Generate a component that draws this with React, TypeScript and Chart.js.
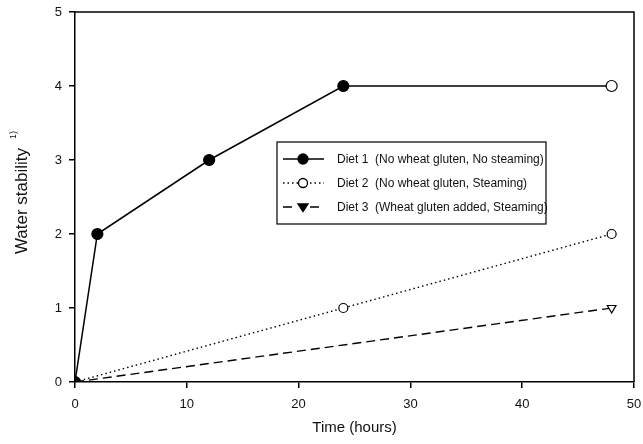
import React, { useEffect, useRef } from "react";
import { Chart, registerables } from "chart.js";

Chart.register(...registerables);

const diet1Time = [0, 2, 12, 24, 48];
const diet1Stability = [0, 2, 3, 4, 4];
const diet2Time = [0, 24, 48];
const diet2Stability = [0, 1, 2];
const diet3Time = [0, 48];
const diet3Stability = [0, 1];

const seriesLabels = [
  "Diet 1  (No wheat gluten, No steaming)",
  "Diet 2  (No wheat gluten, Steaming)",
  "Diet 3  (Wheat gluten added, Steaming)",
];
const xTitle = "Time (hours)";
const yTitle = "Water stability";
const ySuperscript = "1)";

const FONT = "'Liberation Sans', Arial, Helvetica, sans-serif";

function pts(xs: number[], ys: number[]) {
  return xs.map((x, i) => ({ x, y: ys[i] }));
}

function drawMarker(ctx: CanvasRenderingContext2D, style: string, x: number, y: number, r: number, fill: string) {
  ctx.save();
  ctx.beginPath();
  if (style === "circle") {
    ctx.arc(x, y, r, 0, Math.PI * 2);
  } else {
    ctx.moveTo(x - r, y - r * 0.6);
    ctx.lineTo(x + r, y - r * 0.6);
    ctx.lineTo(x, y + r * 0.9);
    ctx.closePath();
  }
  ctx.setLineDash([]);
  ctx.fillStyle = fill;
  ctx.fill();
  ctx.lineWidth = 1.3;
  ctx.strokeStyle = "#000";
  ctx.stroke();
  ctx.restore();
}

const framePlugin = {
  id: "frameLegend",
  afterDraw(chart: any) {
    const ctx: CanvasRenderingContext2D = chart.ctx;
    const a = chart.chartArea;
    ctx.save();
    ctx.strokeStyle = "#000";
    ctx.lineWidth = 1.5;
    ctx.beginPath();
    ctx.moveTo(a.left, a.top);
    ctx.lineTo(a.right, a.top);
    ctx.lineTo(a.right, a.bottom);
    ctx.stroke();

    const bx = 277, by = 142, bw = 269, bh = 82;
    ctx.fillStyle = "#fff";
    ctx.fillRect(bx, by, bw, bh);
    ctx.lineWidth = 1.2;
    ctx.strokeRect(bx, by, bw, bh);
    const rows = [159, 183, 207];
    const styles = [
      { dash: [], marker: "circle", fill: "#000" },
      { dash: [1.5, 3], marker: "circle", fill: "#fff" },
      { dash: [9, 5], marker: "triangle", fill: "#000" },
    ];
    ctx.font = `12px ${FONT}`;
    ctx.textBaseline = "middle";
    rows.forEach((y, i) => {
      const s = styles[i];
      ctx.beginPath();
      ctx.setLineDash(s.dash);
      ctx.lineWidth = 1.4;
      ctx.strokeStyle = "#000";
      if (i === 2) {
        ctx.moveTo(283, y); ctx.lineTo(296, y);
        ctx.moveTo(310, y); ctx.lineTo(323, y);
      } else {
        ctx.moveTo(283, y);
        ctx.lineTo(324, y);
      }
      ctx.stroke();
      ctx.setLineDash([]);
      drawMarker(ctx, s.marker, 303, y, i === 1 ? 4.5 : 5, s.fill);
      ctx.fillStyle = "#111";
      ctx.fillText(seriesLabels[i], 337, y + 0.5);
    });

    ctx.translate(22, 201);
    ctx.rotate(-Math.PI / 2);
    ctx.font = `17px ${FONT}`;
    ctx.textAlign = "center";
    ctx.textBaseline = "middle";
    ctx.fillStyle = "#111";
    ctx.fillText(yTitle, 0, 0);
    const half = ctx.measureText(yTitle).width / 2;
    ctx.font = `9px ${FONT}`;
    ctx.textAlign = "left";
    ctx.fillText(ySuperscript, half + 9, -8);
    ctx.restore();
  },
};

export default function App() {
  const ref = useRef<HTMLCanvasElement>(null);
  useEffect(() => {
    const canvas = ref.current!;
    const chart = new Chart(canvas, {
      type: "line",
      data: {
        datasets: [
          {
            label: seriesLabels[0],
            data: pts(diet1Time, diet1Stability),
            borderColor: "#000",
            borderWidth: 1.5,
            pointStyle: "circle",
            pointRadius: 5.5,
            pointBackgroundColor: ["#000", "#000", "#000", "#000", "#fff"],
            pointBorderColor: "#000",
            pointBorderWidth: 1.2,
            tension: 0,
          },
          {
            label: seriesLabels[1],
            data: pts(diet2Time, diet2Stability),
            borderColor: "#000",
            borderWidth: 1.4,
            borderDash: [1.5, 3],
            pointStyle: "circle",
            pointRadius: 4.5,
            pointBackgroundColor: "#fff",
            pointBorderColor: "#000",
            pointBorderWidth: 1.2,
            tension: 0,
          },
          {
            label: seriesLabels[2],
            data: pts(diet3Time, diet3Stability),
            borderColor: "#000",
            borderWidth: 1.4,
            borderDash: [9, 5],
            pointStyle: "triangle",
            pointRotation: 180,
            pointRadius: 5,
            pointBackgroundColor: ["#000", "#fff"],
            pointBorderColor: "#000",
            pointBorderWidth: 1.2,
            tension: 0,
          },
        ],
      },
      options: {
        responsive: false,
        animation: false,
        layout: { padding: { left: 0, top: 12, right: 9, bottom: 0 } },
        plugins: { legend: { display: false }, tooltip: { enabled: false } },
        scales: {
          x: {
            type: "linear",
            min: 0,
            max: 50,
            ticks: { stepSize: 10, color: "#111", font: { family: FONT, size: 13 }, padding: 9, maxRotation: 0 },
            grid: { drawOnChartArea: false, drawTicks: true, tickLength: 6, color: "#000", lineWidth: 1.5 },
            border: { display: true, color: "#000", width: 1.5 },
            title: { display: true, text: xTitle, color: "#111", font: { family: FONT, size: 15 }, padding: { top: 4, bottom: 7 } },
            afterFit: (s: any) => { s.height = 62; s.paddingLeft = 0; s.paddingRight = 0; },
          },
          y: {
            type: "linear",
            min: 0,
            max: 5,
            ticks: { stepSize: 1, color: "#111", font: { family: FONT, size: 13 }, padding: 7 },
            grid: { drawOnChartArea: false, drawTicks: true, tickLength: 6, color: "#000", lineWidth: 1.5 },
            border: { display: true, color: "#000", width: 1.5 },
            afterFit: (s: any) => { s.width = 75; s.paddingTop = 0; s.paddingBottom = 0; },
          },
        },
      },
      plugins: [framePlugin],
    } as any);
    return () => chart.destroy();
  }, []);
  return (
    <div style={{ position: "absolute", left: 0, top: 0, width: 643, height: 444, background: "#fff" }}>
      <canvas ref={ref} width={643} height={444} />
    </div>
  );
}
